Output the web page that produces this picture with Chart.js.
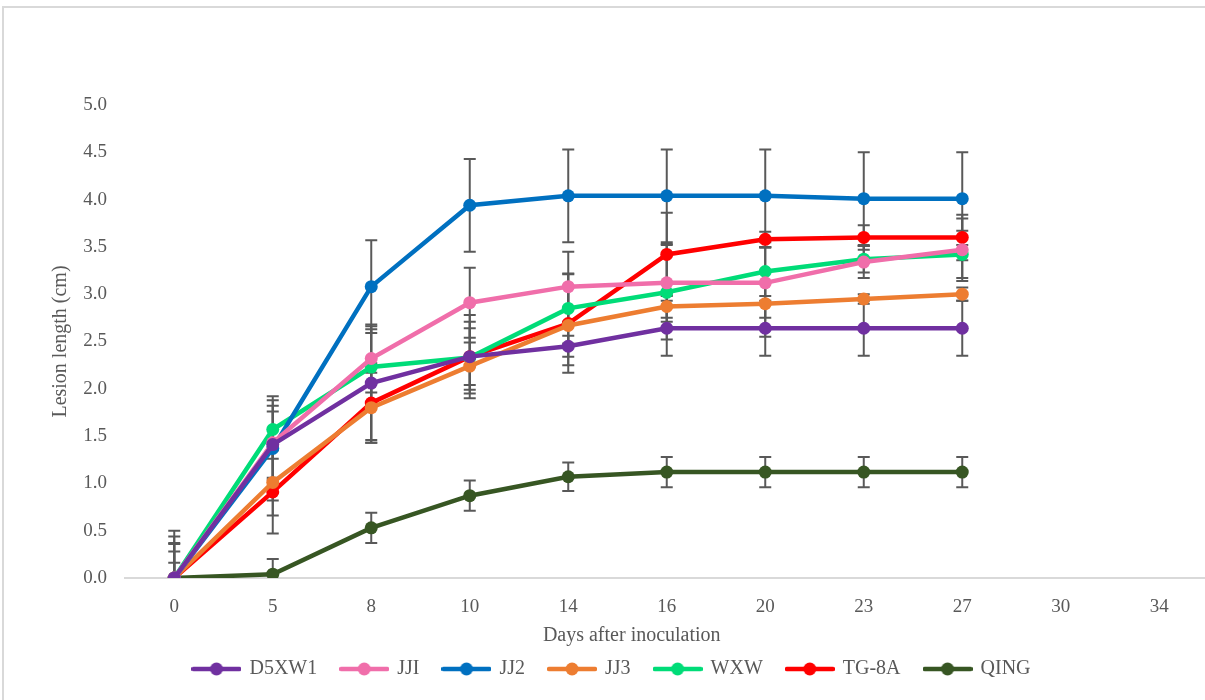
<!DOCTYPE html>
<html>
<head>
<meta charset="utf-8">
<script src="https://cdn.jsdelivr.net/npm/chart.js@4.4.1/dist/chart.umd.min.js"></script>
<style>
html, body { margin:0; padding:0; background:#fff; overflow:hidden; width:1205px; height:700px; }
#frame { position:absolute; left:2px; top:6px; width:1300px; height:800px; border:2px solid #d9d9d9; box-sizing:border-box; }
#myChart { position:absolute; left:0; top:0; }
</style>
</head>
<body>
<div id="frame"></div>
<canvas id="myChart" width="1215" height="700"></canvas>
<script>
// days after inoculation (category axis, evenly spaced like the original)
let days = ['0','5','8','10','14','16','20','23','27','30','34'];

let d5xw1    = [0, 1.41, 2.06, 2.34, 2.45, 2.64, 2.64, 2.64, 2.64];
let d5xw1Err = [0.37, 0.35, 0.60, 0.44, 0.11, 0.29, 0.29, 0.29, 0.29];
let jji      = [0, 1.43, 2.32, 2.91, 3.08, 3.12, 3.12, 3.34, 3.47];
let jjiErr   = [0.44, 0.39, 0.36, 0.37, 0.37, 0.41, 0.37, 0.17, 0.33];
let jj2      = [0, 1.37, 3.08, 3.94, 4.04, 4.04, 4.04, 4.01, 4.01];
let jj2Err   = [0.50, 0.55, 0.49, 0.49, 0.49, 0.49, 0.49, 0.49, 0.49];
let jj3      = [0, 1.01, 1.80, 2.24, 2.67, 2.87, 2.90, 2.95, 3.00];
let jj3Err   = [0.28, 0.35, 0.37, 0.25, 0.42, 0.12, 0.35, 0.05, 0.07];
let wxw      = [0, 1.57, 2.23, 2.33, 2.85, 3.02, 3.24, 3.37, 3.42];
let wxwErr   = [0.36, 0.31, 0.40, 0.38, 0.37, 0.50, 0.26, 0.14, 0.25];
let tg8a     = [0, 0.91, 1.85, 2.34, 2.69, 3.42, 3.58, 3.60, 3.60];
let tg8aErr  = [0.16, 0.44, 0.42, 0.30, 0.52, 0.44, 0.08, 0.13, 0.24];
let qing     = [0, 0.04, 0.53, 0.87, 1.07, 1.12, 1.12, 1.12, 1.12];
let qingErr  = [0, 0.16, 0.16, 0.16, 0.15, 0.16, 0.16, 0.16, 0.16];

let names  = ['D5XW1', 'JJI', 'JJ2', 'JJ3', 'WXW', 'TG-8A', 'QING'];
let colors = ['#7030A0', '#F06EAA', '#0070C0', '#ED7D31', '#00DC78', '#FF0000', '#375623'];
let values = [d5xw1, jji, jj2, jj3, wxw, tg8a, qing];
let errors = [d5xw1Err, jjiErr, jj2Err, jj3Err, wxwErr, tg8aErr, qingErr];

const gray = '#595959';
Chart.defaults.font.family = "'Liberation Serif', 'Times New Roman', serif";
Chart.defaults.color = gray;

// legend marker: short line with a dot, like the excel legend
function legendMark(color){
    let c = document.createElement('canvas');
    c.width = 50; c.height = 14;
    let g = c.getContext('2d');
    g.strokeStyle = color; g.lineWidth = 4.5; g.lineCap = 'round';
    g.beginPath(); g.moveTo(2, 7); g.lineTo(48, 7); g.stroke();
    g.fillStyle = color;
    g.beginPath(); g.arc(25, 7, 6.5, 0, Math.PI*2); g.fill();
    return c;
}
let marks = colors.map(legendMark);

// vertical error bars with caps, drawn under the lines
const errorBars = {
  id: 'errorBars',
  beforeDatasetsDraw(chart){
    const {ctx, chartArea, scales} = chart;
    ctx.save();
    ctx.beginPath();
    ctx.rect(chartArea.left, chartArea.top - 2, chartArea.width, chartArea.height + 2);
    ctx.clip();
    ctx.strokeStyle = gray;
    ctx.lineWidth = 2;
    chart.data.datasets.forEach((ds, i) => {
      let meta = chart.getDatasetMeta(i);
      meta.data.forEach((pt, j) => {
        let e = ds.errors[j];
        if (!e) return;
        let v = ds.data[j];
        let yt = scales.y.getPixelForValue(v + e);
        let yb = scales.y.getPixelForValue(v - e);
        let x = pt.x;
        ctx.beginPath();
        ctx.moveTo(x, yt); ctx.lineTo(x, yb);
        ctx.moveTo(x - 6, yt); ctx.lineTo(x + 6, yt);
        ctx.moveTo(x - 6, yb); ctx.lineTo(x + 6, yb);
        ctx.stroke();
      });
    });
    ctx.restore();
  }
};

const ctx = document.getElementById('myChart');

let myChart = new Chart(ctx, {
  type: 'line',
  data: {
    labels: days,
    datasets: names.map((n, i) => ({
      label: n,
      data: values[i],
      errors: errors[i],
      borderColor: colors[i],
      backgroundColor: colors[i],
      borderWidth: 4.5,
      pointRadius: 6.5,
      pointBorderWidth: 0,
      pointHoverRadius: 6.5,
      tension: 0
    }))
  },
  options: {
    responsive: false,
    animation: false,
    layout: { padding: { left: 15, right: 6, top: 105, bottom: 11 } },
    plugins: {
      tooltip: { enabled: false },
      legend: {
        position: 'bottom',
        labels: {
          usePointStyle: true,
          pointStyleWidth: 46,
          padding: 24,
          color: gray,
          font: { size: 20 },
          generateLabels(chart){
            let items = Chart.defaults.plugins.legend.labels.generateLabels(chart);
            items.forEach((it, i) => { it.pointStyle = marks[i]; });
            return items;
          }
        }
      }
    },
    scales: {
      x: {
        offset: true,
        grid: { display: false, drawTicks: false, offset: true },
        border: { color: '#d9d9d9', width: 2 },
        ticks: { padding: 18, font: { size: 19 }, color: gray },
        // trailing spaces pull the centred title left, as in the original
        title: { display: true, text: 'Days after inoculation              ', font: { size: 20 }, color: gray, padding: { top: 0, bottom: -13 } },
        afterFit(scale){ scale.height = 57; }
      },
      y: {
        min: 0,
        max: 5,
        grid: { display: false, drawTicks: false },
        border: { display: false },
        ticks: { stepSize: 0.5, padding: 18, font: { size: 19 }, color: gray, callback: v => v.toFixed(1) },
        title: { display: true, text: 'Lesion length (cm)', font: { size: 20 }, color: gray, padding: { top: 34, bottom: 4 } },
        afterFit(scale){ scale.width = 110; }
      }
    }
  },
  plugins: [errorBars]
});
</script>
</body>
</html>
